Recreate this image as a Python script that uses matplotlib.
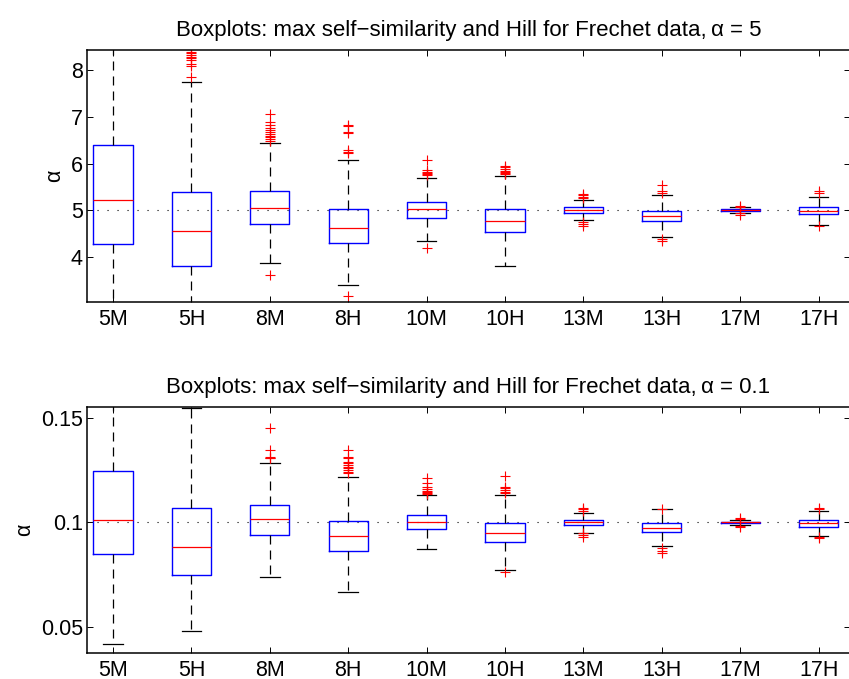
import matplotlib
matplotlib.use("Agg")
import matplotlib.pyplot as plt

plt.rcParams['font.family'] = ['Liberation Sans', 'DejaVu Sans']
plt.rcParams['lines.scale_dashes'] = False

labels = ['5M', '5H', '8M', '8H', '10M', '10H', '13M', '13H', '17M', '17H']

# alpha = 5 panel
top_q1 = [4.27, 3.81, 4.71, 4.30, 4.84, 4.53, 4.95, 4.77, 4.98, 4.91]
top_med = [5.23, 4.56, 5.05, 4.61, 5.02, 4.77, 5.00, 4.88, 5.00, 4.98]
top_q3 = [6.40, 5.39, 5.41, 5.02, 5.18, 5.02, 5.06, 4.99, 5.02, 5.06]
top_lo = [2.60, 2.70, 3.87, 3.39, 4.33, 3.80, 4.78, 4.43, 4.95, 4.68]
top_hi = [9.20, 7.76, 6.45, 6.08, 5.70, 5.73, 5.23, 5.33, 5.06, 5.28]
top_fliers = [
    [],
    [7.85, 8.10, 8.15, 8.22, 8.26, 8.30, 8.33, 8.37, 8.40, 8.46, 8.60],
    [3.61, 6.49, 6.53, 6.57, 6.60, 6.64, 6.67, 6.72, 6.76, 6.82, 6.89, 7.07],
    [3.16, 6.22, 6.25, 6.29, 6.66, 6.69, 6.80, 6.83],
    [4.18, 5.75, 5.77, 5.80, 5.82, 5.86, 6.08],
    [5.77, 5.79, 5.82, 5.85, 5.88, 5.92, 5.95],
    [4.66, 4.70, 4.74, 5.27, 5.29, 5.32, 5.35],
    [4.33, 4.38, 5.38, 5.42, 5.54],
    [4.90, 4.93, 5.08, 5.10],
    [4.66, 5.38, 5.42],
]
top_ref = 5
top_yticks = [4, 5, 6, 7, 8]
top_ylim = (3.03, 8.44)

# alpha = 0.1 panel
bot_q1 = [0.0848, 0.0747, 0.0941, 0.0864, 0.0968, 0.0906, 0.0987, 0.0952, 0.0998, 0.0979]
bot_med = [0.1010, 0.0880, 0.1014, 0.0935, 0.1002, 0.0950, 0.1000, 0.0974, 0.1000, 0.0995]
bot_q3 = [0.1245, 0.1070, 0.1081, 0.1008, 0.1033, 0.0997, 0.1012, 0.0998, 0.1002, 0.1011]
bot_lo = [0.0420, 0.0480, 0.0740, 0.0667, 0.0874, 0.0772, 0.0950, 0.0888, 0.0987, 0.0934]
bot_hi = [0.1700, 0.1546, 0.1282, 0.1218, 0.1129, 0.1129, 0.1046, 0.1062, 0.1011, 0.1055]
bot_fliers = [
    [],
    [],
    [0.1306, 0.1310, 0.1314, 0.1346, 0.1449],
    [0.1234, 0.1242, 0.1250, 0.1258, 0.1266, 0.1274, 0.1282, 0.1290, 0.1306, 0.1314, 0.1346],
    [0.1135, 0.1140, 0.1145, 0.1152, 0.1160, 0.1170, 0.1186, 0.1210],
    [0.0761, 0.1139, 0.1146, 0.1154, 0.1162, 0.1170, 0.1223],
    [0.0931, 0.0940, 0.0947, 0.1056, 0.1064, 0.1070],
    [0.0852, 0.0864, 0.0876, 0.1065],
    [0.0980, 0.0984, 0.1015, 0.1020],
    [0.0924, 0.0931, 0.1064, 0.1070],
]
bot_ref = 0.1
bot_yticks = [0.05, 0.1, 0.15]
bot_ytick_labels = ['0.05', '0.1', '0.15']
bot_ylim = (0.0377, 0.1553)

titles = [
    'Boxplots: max self\u2212similarity and Hill for Frechet data,\u2009\u03b1 = 5',
    'Boxplots: max self\u2212similarity and Hill for Frechet data,\u2009\u03b1 = 0.1',
]

W, H = 849, 679
fig = plt.figure(figsize=(W / 100, H / 100), dpi=100)
ax1 = fig.add_axes([87 / W, 1 - 302 / H, 763 / W, 252 / H])
ax2 = fig.add_axes([87 / W, 1 - 652.7 / H, 763 / W, 246 / H])


def draw(ax, q1, med, q3, lo, hi, fliers, ref, yticks, ylim, title, yticklabels=None):
    stats = []
    for i in range(len(labels)):
        stats.append(dict(med=med[i], q1=q1[i], q3=q3[i], whislo=lo[i],
                          whishi=hi[i], fliers=fliers[i], label=labels[i]))
    pos = list(range(1, len(labels) + 1))
    ax.axhline(ref, color='black', lw=0.8, linestyle=(0, (0.8, 6.4)), zorder=1)
    ax.bxp(stats, positions=pos, widths=0.5,
           boxprops=dict(color='blue', lw=1.0),
           medianprops=dict(color='red', lw=0.9),
           whiskerprops=dict(color='black', lw=0.9, linestyle=(0, (6.5, 4.3))),
           capprops=dict(color='black', lw=0.9),
           flierprops=dict(marker='+', markeredgecolor='red', markersize=7,
                           markeredgewidth=0.8, linestyle='none'))
    ax.set_xlim(0.668, 10.40)
    ax.set_ylim(*ylim)
    ax.set_yticks(yticks)
    if yticklabels is not None:
        ax.set_yticklabels(yticklabels)
    ax.set_xticks(pos)
    ax.set_xticklabels(labels)
    ax.tick_params(direction='in', top=True, right=True, length=4.5, width=0.7,
                   labelsize=15.5, color='black')
    ax.tick_params(axis='x', pad=5)
    ax.tick_params(axis='y', pad=3)
    for s in ax.spines.values():
        s.set_linewidth(1.1)
    ax.set_ylabel('\u03b1', fontsize=15.5)
    ax.set_title(title, fontsize=16, pad=10)


draw(ax1, top_q1, top_med, top_q3, top_lo, top_hi, top_fliers, top_ref,
     top_yticks, top_ylim, titles[0])
draw(ax2, bot_q1, bot_med, bot_q3, bot_lo, bot_hi, bot_fliers, bot_ref,
     bot_yticks, bot_ylim, titles[1], bot_ytick_labels)

fig.savefig('out.png', dpi=100)
